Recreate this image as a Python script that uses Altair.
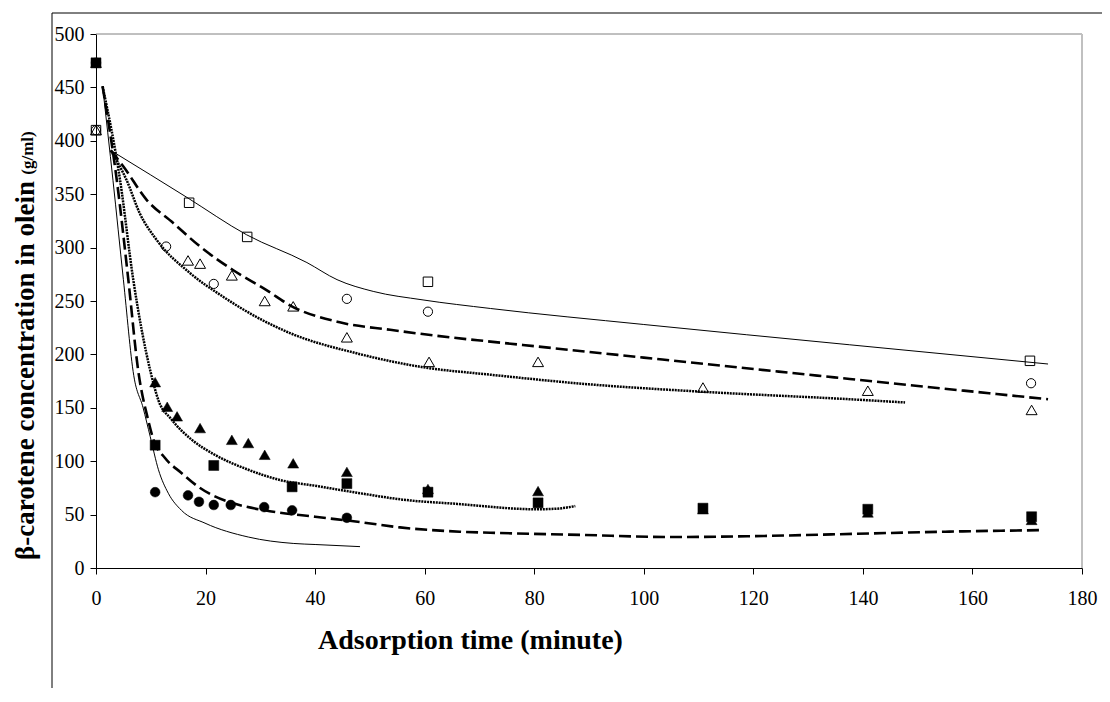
import altair as alt
import pandas as pd

# ---------------- measured points ----------------
sq_open_x = [0, 17, 27.6, 60.6, 170.5]
sq_open_y = [410, 342, 310, 268, 194]
ci_open_x = [0, 12.8, 21.5, 45.8, 60.6, 170.7]
ci_open_y = [410, 301, 266, 252, 240, 173]
tr_open_x = [0, 16.8, 19, 24.8, 30.8, 36, 45.8, 60.8, 80.7, 110.8, 140.9, 170.8]
tr_open_y = [410, 288, 285, 274, 250, 245, 216, 193, 193, 169, 166, 148]

tr_fill_x = [0, 10.8, 13, 14.8, 19, 24.8, 27.8, 30.8, 36, 45.8, 60.6, 80.7, 110.8, 140.9, 170.8]
tr_fill_y = [473, 174, 151, 142, 131, 120, 117, 106, 98, 90, 74, 72, 55, 52, 45]
sq_fill_x = [0, 10.8, 21.5, 35.8, 45.8, 60.6, 80.7, 110.8, 140.9, 170.8]
sq_fill_y = [473, 115, 96, 76, 79, 71, 61, 56, 55, 48]
ci_fill_x = [0, 10.8, 16.8, 18.8, 21.5, 24.6, 30.7, 35.8, 45.8]
ci_fill_y = [473, 71, 68, 62, 59, 59, 57, 54, 47]

# ---------------- fitted curves ----------------
us_x = [2.7, 10, 16.6, 27.5, 38.5, 44, 50.6, 59.7, 72, 100, 137.6, 173.8]
us_y = [391, 368, 347, 312, 286, 270, 259, 251, 243, 228, 209, 191]
ud_x = [2.7, 5, 9.2, 14.1, 19, 25, 31.2, 35.4, 44.5, 53.7, 64.6, 72, 100, 137.6, 173.8]
ud_y = [391, 376, 345, 323, 301, 279, 260, 246, 230, 223, 216, 212, 197, 177, 158]
ut_x = [2.7, 5.6, 8, 11.1, 17.2, 23.2, 29.3, 35.4, 47.6, 59.7, 72, 90, 110.8, 137.6, 147.7]
ut_y = [391, 363, 332, 307, 276, 254, 235, 220, 201, 188, 181, 172, 165, 158, 155]

ls_x = [1.2, 3.1, 5, 6.9, 8.6, 9.9, 11.4, 13.2, 15.6, 19.9, 27.8, 36, 40, 48.2]
ls_y = [451, 363, 270, 180, 150, 123, 92, 70, 54, 42, 29, 23, 22, 20]
ld_x = [1.2, 3.8, 5.9, 7.7, 9.5, 10.5, 12.6, 15.6, 18.7, 21.7, 24.8, 30.8, 40, 48.2,
        55.5, 66.4, 72, 88.7, 105, 122, 138.5, 155, 173]
ld_y = [451, 363, 270, 185, 139, 120, 103, 89, 76, 67, 61, 54, 48, 43,
        38, 34, 33, 31, 29, 30, 32, 34, 35.5]
lt_x = [1.2, 4.4, 6.8, 9.9, 11.4, 13.8, 17.5, 21.7, 27.8, 33.9, 40, 48.2, 56, 66, 80.3, 84, 87.5]
lt_y = [451, 363, 270, 185, 157, 139, 120, 106, 92, 82, 77, 70, 64, 60, 55, 55.5, 58]

x_ticks = list(range(0, 181, 20))
y_ticks = list(range(0, 501, 50))

W, H = 986, 534
SERIF = "Liberation Serif"

xs = alt.Scale(domain=[0, 180], nice=False, zero=False)
ys = alt.Scale(domain=[0, 500], nice=False, zero=False)

x_axis = alt.Axis(values=x_ticks, title="Adsorption time (minute)", grid=False,
                  labelFontSize=20, labelPadding=14, tickSize=6, labelFlush=False,
                  titleFontSize=28, titleX=374, titleY=80, titleBaseline="alphabetic",
                  titleAlign="center")
y_axis = alt.Axis(values=y_ticks, title="β-carotene concentration in olein", grid=False,
                  labelFontSize=20, labelPadding=6, tickSize=6, labelFlush=False,
                  titleFontSize=27, titleX=-63, titleY=336, titleAngle=-90,
                  titleBaseline="alphabetic", titleAlign="center")

X = alt.X("x:Q", scale=xs, axis=x_axis)
Y = alt.Y("y:Q", scale=ys, axis=y_axis)


def df(x, y):
    return pd.DataFrame({"x": x, "y": y})


def curve(x, y, width, dash=None):
    kw = dict(color="black", strokeWidth=width, interpolate="monotone")
    if dash is not None:
        kw["strokeDash"] = dash
    return alt.Chart(df(x, y)).mark_line(**kw).encode(x=X, y=Y)


def pts(x, y, shape, filled, size):
    kw = dict(shape=shape, size=size, opacity=1)
    if filled:
        kw.update(filled=True, fill="black", stroke="black", strokeWidth=0.5)
    else:
        kw.update(filled=False, stroke="black", strokeWidth=1)
    return alt.Chart(df(x, y)).mark_point(**kw).encode(x=X, y=Y)


one = pd.DataFrame({"a": [0]})

outer_top = alt.Chart(one).mark_rule(color="black", strokeWidth=1).encode(
    x=alt.value(-44), x2=alt.value(1100), y=alt.value(-21))
outer_left = alt.Chart(one).mark_rule(color="black", strokeWidth=1).encode(
    x=alt.value(-44), y=alt.value(-21), y2=alt.value(700))
plot_top = alt.Chart(one).mark_rule(color="#808080", strokeWidth=1).encode(
    x=alt.value(0), x2=alt.value(W), y=alt.value(0))
plot_right = alt.Chart(one).mark_rule(color="#c0c0c0", strokeWidth=2).encode(
    x=alt.value(W), y=alt.value(0), y2=alt.value(H))

unit_label = alt.Chart(one).mark_text(
    text="(g/ml)", font=SERIF, fontSize=17, fontWeight="bold", angle=270,
    align="center", baseline="alphabetic", color="black").encode(
    x=alt.value(-63), y=alt.value(119))

DOT = [2, 0.9]
DASH = [12, 5]

layers = [
    outer_top, outer_left, plot_top, plot_right,
    curve(us_x, us_y, 1),
    curve(ud_x, ud_y, 2.6, DASH),
    curve(ut_x, ut_y, 2.5, DOT),
    curve(ls_x, ls_y, 1),
    curve(ld_x, ld_y, 2.6, DASH),
    curve(lt_x, lt_y, 2.5, DOT),
    pts(ci_fill_x, ci_fill_y, "circle", True, 95),
    pts(sq_fill_x, sq_fill_y, "square", True, 100),
    pts(tr_fill_x, tr_fill_y, "triangle-up", True, 120),
    pts(sq_open_x, sq_open_y, "square", False, 90),
    pts(ci_open_x, ci_open_y, "circle", False, 85),
    pts(tr_open_x, tr_open_y, "triangle-up", False, 120),
    unit_label,
]

chart = alt.layer(*layers).properties(
    width=W, height=H,
    autosize=alt.AutoSizeParams(type="none"),
    padding={"left": 88, "top": 26, "right": 20, "bottom": 120},
    background="white",
).configure_view(stroke=None).configure_axis(
    domainColor="black", tickColor="black", labelColor="black", titleColor="black",
    labelFont=SERIF, titleFont=SERIF, titleFontWeight="bold", domainWidth=1, tickWidth=1,
)

chart.save("out.html", embed_options={"renderer": "svg", "actions": False})
